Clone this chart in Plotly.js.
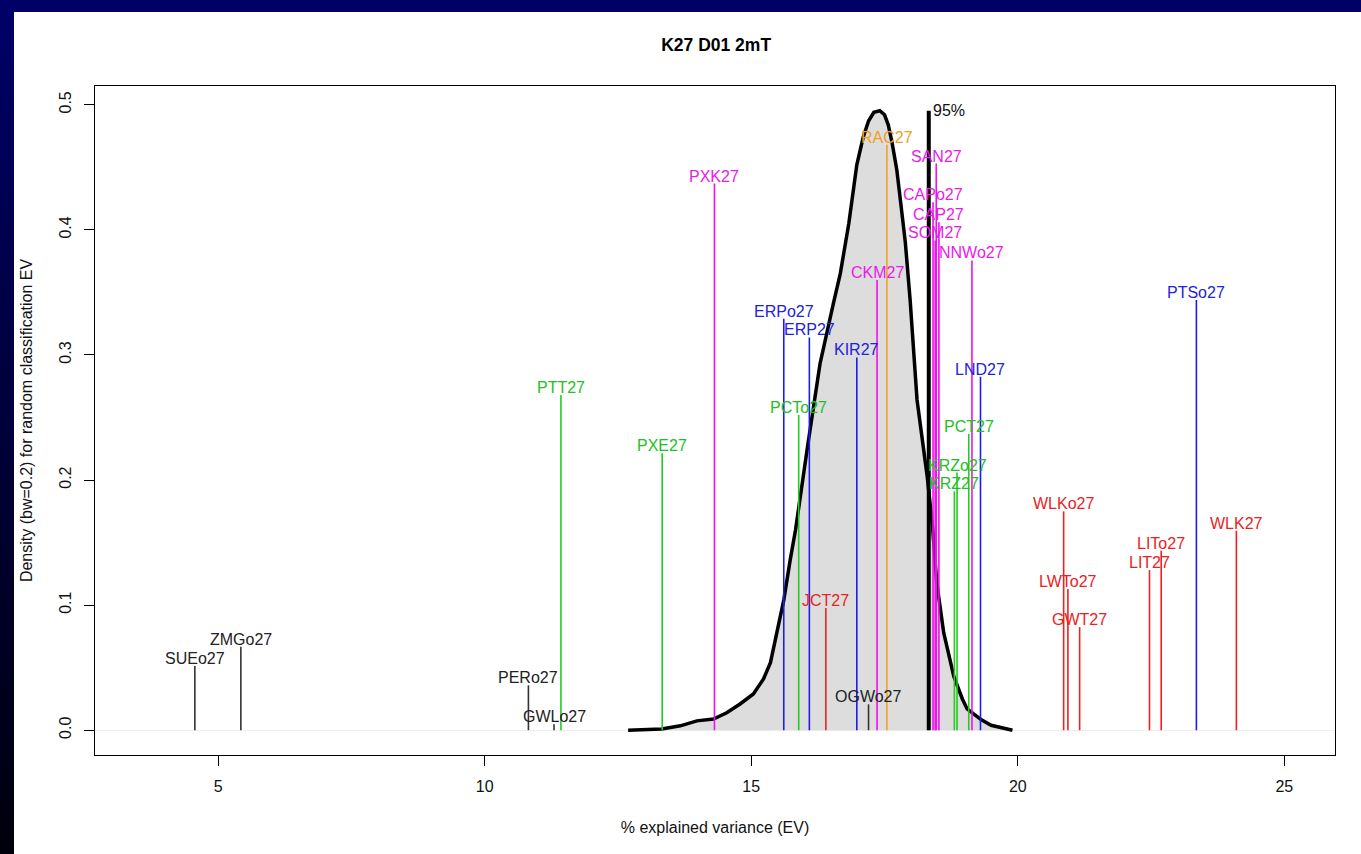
<!DOCTYPE html>
<html>
<head>
<meta charset="utf-8">
<script src="https://cdn.plot.ly/plotly-3.0.1.min.js"></script>
<style>
  html, body { margin: 0; padding: 0; background: #ffffff; }
  #wrap { position: relative; width: 1361px; height: 854px; overflow: hidden; background: #ffffff; }
  #topbar { position: absolute; left: 0; top: 0; width: 1361px; height: 12px; background: #000066; }
  #leftbar { position: absolute; left: 0; top: 0; width: 14px; height: 854px; background: linear-gradient(#000068, #00000c); }
  #chart { position: absolute; left: 0; top: 0; width: 1361px; height: 854px; }
</style>
</head>
<body>
<div id="wrap">
  <div id="topbar"></div>
  <div id="leftbar"></div>
  <div id="chart"></div>
</div>
<script>
// Density curve of random-classification EV (bw = 0.2)
const densityEV = [12.69, 13.0, 13.32, 13.67, 13.98, 14.29, 14.54, 14.79, 15.04, 15.23, 15.36, 15.48, 15.61, 15.73, 15.83, 16.05, 16.29, 16.54, 16.67, 16.83, 16.98, 17.10, 17.20, 17.30, 17.41, 17.50, 17.57, 17.64, 17.73, 17.80, 17.89, 17.98, 18.11, 18.30, 18.40, 18.48, 18.61, 18.80, 18.96, 19.05, 19.31, 19.50, 19.67, 19.90];
const densityY  = [0.0, 0.0005, 0.001, 0.0035, 0.0075, 0.009, 0.014, 0.021, 0.029, 0.041, 0.054, 0.078, 0.104, 0.136, 0.160, 0.225, 0.293, 0.341, 0.365, 0.405, 0.452, 0.474, 0.487, 0.494, 0.4952, 0.492, 0.484, 0.470, 0.448, 0.423, 0.39, 0.344, 0.264, 0.203, 0.163, 0.118, 0.078, 0.043, 0.025, 0.017, 0.0085, 0.004, 0.002, 0.0];

// 95% quantile line
const q95EV = 18.33;
const q95Y = 0.4952;
const q95Label = "95%";

// Sample groups: labels, EV (x) and line heights (y)
const grayLabels = ["SUEo27", "ZMGo27", "PERo27", "GWLo27", "OGWo27"];
const grayEV     = [4.563, 5.426, 10.82, 11.30, 17.20];
const grayY      = [0.0513, 0.0667, 0.0359, 0.0048, 0.0207];

const greenLabels = ["PTT27", "PXE27", "PCTo27", "KRZ27", "KRZo27", "PCT27"];
const greenEV     = [11.43, 13.33, 15.89, 18.81, 18.86, 19.08];
const greenY      = [0.268, 0.2214, 0.252, 0.191, 0.206, 0.2368];

const magentaLabels = ["PXK27", "CKM27", "CAPo27", "SOM27", "SAN27", "CAP27", "NNWo27"];
const magentaEV     = [14.31, 17.36, 18.41, 18.45, 18.47, 18.52, 19.14];
const magentaY      = [0.437, 0.360, 0.422, 0.3915, 0.453, 0.406, 0.3756];

const blueLabels = ["ERPo27", "ERP27", "KIR27", "LND27", "PTSo27"];
const blueEV     = [15.61, 16.09, 16.98, 19.30, 23.35];
const blueY      = [0.329, 0.314, 0.298, 0.2826, 0.344];

const redLabels = ["JCT27", "WLKo27", "LWTo27", "GWT27", "LIT27", "LITo27", "WLK27"];
const redEV     = [16.40, 20.86, 20.94, 21.16, 22.47, 22.69, 24.10];
const redY      = [0.0978, 0.175, 0.113, 0.0824, 0.128, 0.1435, 0.1595];

const orangeLabels = ["RAC27"];
const orangeEV     = [17.545];
const orangeY      = [0.468];

const xTickVals = [5, 10, 15, 20, 25];
const yTickVals = [0.0, 0.1, 0.2, 0.3, 0.4, 0.5];

const FONT = "Liberation Sans, Arial, Helvetica, sans-serif";

const groups = [
  {labels: grayLabels,    ev: grayEV,    y: grayY,    line: "#333333", text: "#222222"},
  {labels: greenLabels,   ev: greenEV,   y: greenY,   line: "#22cc22", text: "#22c022"},
  {labels: magentaLabels, ev: magentaEV, y: magentaY, line: "#f010f0", text: "#e81ae8"},
  {labels: blueLabels,    ev: blueEV,    y: blueY,    line: "#1c1cee", text: "#2222dd"},
  {labels: redLabels,     ev: redEV,     y: redY,     line: "#ee2020", text: "#e82222"},
  {labels: orangeLabels,  ev: orangeEV,  y: orangeY,  line: "#f2a421", text: "#f0a020"}
];

const traces = [];
traces.push({
  x: densityEV, y: densityY, type: "scatter", mode: "lines",
  fill: "tozeroy", fillcolor: "#dddddd",
  line: {color: "#000000", width: 3.5, shape: "linear"},
  hoverinfo: "skip", showlegend: false
});

const annotations = [];
groups.forEach(g => {
  const xs = [], ys = [];
  g.ev.forEach((v, i) => { xs.push(v, v, null); ys.push(0, g.y[i], null); });
  traces.push({x: xs, y: ys, type: "scatter", mode: "lines",
    line: {color: g.line, width: 1.6}, hoverinfo: "skip", showlegend: false});
  g.labels.forEach((lab, i) => {
    annotations.push({x: g.ev[i], y: g.y[i], xref: "x", yref: "y", text: lab,
      showarrow: false, xanchor: "center", yanchor: "bottom", yshift: -3,
      font: {family: FONT, size: 16, color: g.text}});
  });
});

traces.push({x: [q95EV, q95EV], y: [0, q95Y], type: "scatter", mode: "lines",
  line: {color: "#000000", width: 4}, hoverinfo: "skip", showlegend: false});
annotations.push({x: q95EV, y: q95Y, xref: "x", yref: "y", text: q95Label,
  showarrow: false, xanchor: "left", yanchor: "middle", xshift: 2,
  font: {family: FONT, size: 16, color: "#111111"}});

const layout = {
  width: 1361, height: 854,
  paper_bgcolor: "rgba(0,0,0,0)", plot_bgcolor: "#ffffff",
  margin: {l: 95, r: 26, t: 86, b: 99, pad: 0},
  showlegend: false,
  font: {family: FONT, size: 16, color: "#111111"},
  title: {text: "<b>K27 D01 2mT</b>", font: {family: FONT, size: 17.5, color: "#000000"},
    x: 0.5262, xanchor: "center", xref: "container", y: 1 - 45/854, yanchor: "middle", yref: "container"},
  xaxis: {
    range: [2.69, 25.95], tickvals: xTickVals, ticktext: xTickVals.map(String),
    ticks: "outside", ticklen: 10, tickwidth: 1, tickcolor: "#000",
    showline: true, mirror: true, linecolor: "#000", linewidth: 1.3,
    showgrid: false, zeroline: false, automargin: false,
    ticklabelstandoff: 6,
    tickfont: {family: FONT, size: 16, color: "#111"},
    title: {text: "% explained variance (EV)", standoff: 28, font: {family: FONT, size: 16, color: "#111"}}
  },
  yaxis: {
    range: [-0.0198, 0.515], tickvals: yTickVals, ticktext: yTickVals.map(v => v.toFixed(1)),
    ticks: "outside", ticklen: 10, tickwidth: 1, tickcolor: "#000", tickangle: -90,
    showline: true, mirror: true, linecolor: "#000", linewidth: 1.3,
    showgrid: false, zeroline: true, zerolinecolor: "#eeeeee", zerolinewidth: 1,
    automargin: false, ticklabelstandoff: 6,
    tickfont: {family: FONT, size: 16, color: "#111"},
    title: {text: "Density (bw=0.2) for random classification EV", standoff: 20, font: {family: FONT, size: 16, color: "#111"}}
  },
  annotations: annotations
};

Plotly.newPlot("chart", traces, layout, {displayModeBar: false, staticPlot: true});
</script>
</body>
</html>
